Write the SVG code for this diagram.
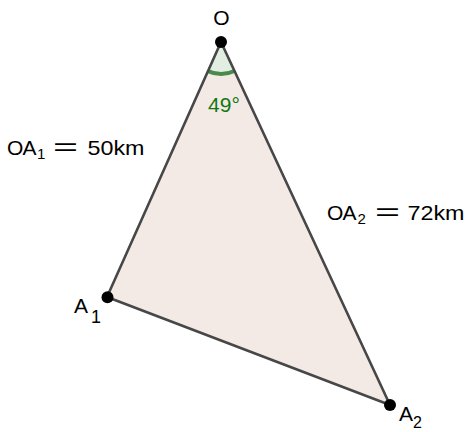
<svg xmlns="http://www.w3.org/2000/svg" width="466" height="432" viewBox="0 0 466 432">
<style>
.lbl{font-family:"Liberation Sans",Arial,sans-serif;font-size:21px;fill:#000}
.sub{font-size:15px}
.eq{font-size:24px}
.pt{fill:#000}
</style>
<rect width="466" height="432" fill="#fff"/>
<g id="triangle">
<polygon points="221,42 107,297 390,405" fill="#f3eae6" stroke="none"/>
</g>
<g id="angle">
<path d="M221,42 L208.0,71.1 A32,32 0 0 0 234.5,71.0 Z" fill="#e3eee3" stroke="none"/>
<path d="M208.0,71.1 A32,32 0 0 0 234.5,71.0" fill="none" stroke="#4a8a4a" stroke-width="4"/>
<text x="224" y="112" text-anchor="middle" style="font-family:'Liberation Sans',Arial,sans-serif;font-size:21px;fill:#117711">49°</text>
</g>
<g id="connectors" fill="none" stroke="#474747" stroke-width="2.6" stroke-linecap="round">
<line x1="221" y1="42" x2="107" y2="297"/>
<line x1="221" y1="42" x2="390" y2="405"/>
<line x1="107" y1="297" x2="390" y2="405"/>
</g>
<g id="O">
<circle class="pt" cx="221" cy="42" r="6"/>
<text class="lbl" x="221.5" y="25" text-anchor="middle">O</text>
</g>
<g id="A1">
<circle class="pt" cx="107.5" cy="297.3" r="6"/>
<text class="lbl" x="74" y="313">A</text>
<text class="lbl" x="91" y="323" style="font-size:18px">1</text>
</g>
<g id="A2">
<circle class="pt" cx="390" cy="405" r="6"/>
<text class="lbl" x="399" y="421">A</text>
<text class="lbl" x="413" y="428" style="font-size:16px">2</text>
</g>
<g id="labelOA1">
<text class="lbl" x="7" y="155">O</text>
<text class="lbl" x="22.5" y="155">A</text>
<text class="lbl sub" x="37" y="159">1</text>
<text class="lbl eq" x="53" y="155" textLength="25" lengthAdjust="spacingAndGlyphs">=</text>
<text class="lbl" x="87.5" y="155" textLength="57" lengthAdjust="spacingAndGlyphs">50km</text>
</g>
<g id="labelOA2">
<text class="lbl" x="327" y="220">O</text>
<text class="lbl" x="342.5" y="220">A</text>
<text class="lbl sub" x="357.5" y="224">2</text>
<text class="lbl eq" x="375" y="220" textLength="25" lengthAdjust="spacingAndGlyphs">=</text>
<text class="lbl" x="407.5" y="220" textLength="57" lengthAdjust="spacingAndGlyphs">72km</text>
</g>
</svg>
